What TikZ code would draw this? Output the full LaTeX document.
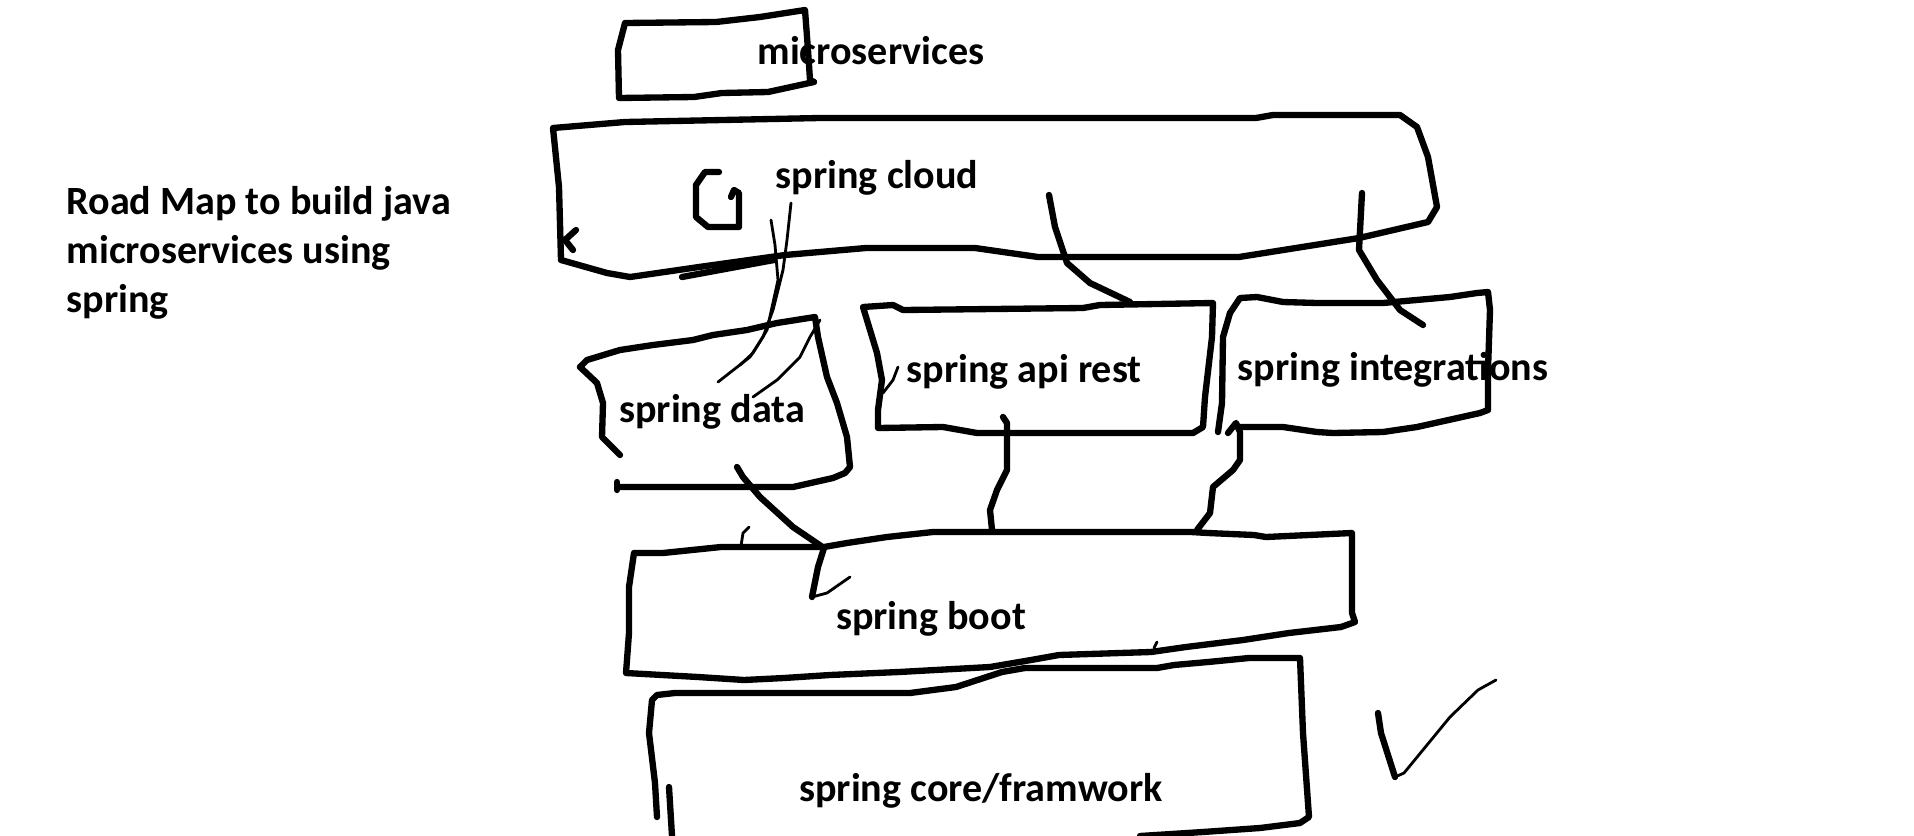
\documentclass[tikz,border=0pt]{standalone}
\usepackage{fontspec}
\setmainfont{Carlito}
\usepackage{tikz}

\tikzset{
  txt/.style={font=\bfseries\fontsize{11.4}{13.9}\selectfont, inner sep=0pt},
  hand/.style={line width=1.8pt, line join=round, line cap=round},
  fine/.style={line width=0.8pt, line join=round, line cap=round}
}

\begin{document}
\begin{tikzpicture}[x=0.01cm, y=-0.01cm]
  \useasboundingbox (0,0) rectangle (1914,836);
  \fill[white] (0,0) rectangle (1914,836);

  \node[txt, anchor=west, align=left] (title) at (66,253) {Road Map to build java\\microservices using\\spring};
  \node[txt] (ms) at (871,51) {microservices};
  \node[txt] (cloud) at (877,178) {spring cloud};
  \node[txt] (data) at (712,412) {spring data};
  \node[txt] (api) at (1024,372) {spring api rest};
  \node[txt] (integ) at (1393,370) {spring integrations};
  \node[txt] (boot) at (931,619) {spring boot};
  \node[txt] (core) at (981,791) {spring core/framwork};

  % boxes
  \draw[hand] (625,23) -- (716,22) -- (760,17) -- (805,10) -- (808,50) -- (810,80) -- (814,82) -- (768,92) -- (722,93) -- (694,97) -- (619,98) -- (618,50) -- cycle;
  \draw[hand] (553,128) -- (625,122) -- (820,118) -- (1256,118) -- (1273,115) -- (1400,115) -- (1417,127) -- (1428,157) -- (1437,207) -- (1428,222) -- (1359,238) -- (1239,257) -- (1038,257) -- (975,248) -- (866,248) -- (785,255) -- (699,267) -- (630,277) -- (607,273) -- (561,260) -- (559,187) -- cycle;
  \draw[hand] (576,230) -- (565,240) -- (573,250);
  \draw[hand] (682,277) -- (774,260);
  \draw[hand] (719,172) -- (705,172) -- (696,185) -- (696,217) -- (708,227) -- (739,227) -- (739,193) -- (734,190) -- (731,197);

  \draw[hand] (580,367) -- (587,360) -- (620,350) -- (653,345) -- (693,340) -- (713,335) -- (747,330) -- (777,323) -- (815,317) -- (818,337) -- (827,377) -- (837,403) -- (847,437) -- (850,467) -- (845,473) -- (833,478) -- (793,487) -- (620,487);
  \draw[hand] (580,367) -- (597,383) -- (603,403) -- (602,437) -- (620,455);
  \draw[hand] (617,482) -- (617,490);
  \draw[fine] (820,320) -- (810,337) -- (800,357) -- (777,380) -- (753,397);

  \draw[hand] (863,307) -- (893,305) -- (903,310) -- (1083,308) -- (1100,305) -- (1213,303) -- (1212,337) -- (1205,397) -- (1203,427) -- (1193,433) -- (977,433) -- (943,427) -- (878,428) -- (878,410) -- (882,380) -- (877,353) -- cycle;
  \draw[fine] (898,367) -- (893,380) -- (883,393);

  \draw[hand] (1230,313) -- (1240,298) -- (1257,297) -- (1283,302) -- (1317,303) -- (1383,303) -- (1450,297) -- (1477,293) -- (1488,292) -- (1490,310) -- (1488,370) -- (1488,410) -- (1480,413) -- (1417,427) -- (1383,432) -- (1333,433) -- (1317,432) -- (1283,427) -- (1240,427);
  \draw[hand] (1230,313) -- (1223,337) -- (1222,403) -- (1218,432);

  \draw[hand] (634,553) -- (663,553) -- (692,550) -- (721,547) -- (824,547) -- (847,543) -- (887,537) -- (933,532) -- (1191,532) -- (1208,533) -- (1254,535) -- (1266,537) -- (1352,533) -- (1352,613) -- (1355,622) -- (1341,627) -- (1289,633) -- (1243,640) -- (1186,647) -- (1151,652) -- (1059,655) -- (1031,660) -- (990,667) -- (899,672) -- (830,675) -- (784,678) -- (744,680) -- (698,677) -- (626,673) -- (629,633) -- (629,587) -- cycle;
  \draw[fine] (741,546) -- (743,533) -- (749,527);
  \draw[fine] (1157,642) -- (1154,648);

  \draw[hand] (657,817) -- (655,783) -- (649,733) -- (652,700) -- (657,695) -- (675,693) -- (910,693) -- (956,687) -- (1002,672) -- (1025,668) -- (1157,668) -- (1174,665) -- (1208,662) -- (1249,658) -- (1300,658) -- (1303,733) -- (1309,817) -- (1300,823) -- (1260,828) -- (1203,832) -- (1140,836);
  \draw[hand] (669,787) -- (672,836);

  % connectors
  \coordinate (cloudA) at (791,203);
  \coordinate (cloudB) at (771,220);
  \coordinate (cloudC) at (1049,195);
  \coordinate (cloudD) at (1362,193);
  \coordinate (dataA) at (718,382);
  \coordinate (dataB) at (740,365);
  \coordinate (apiT) at (1130,302);
  \coordinate (integT) at (1423,325);
  \coordinate (dataD) at (737,467);
  \coordinate (apiD) at (1003,417);
  \coordinate (integD) at (1228,433);
  \coordinate (bootA) at (850,577);
  \coordinate (bootB) at (992,530);
  \coordinate (bootC) at (1197,530);

  \draw[fine] (cloudA) -- (787,240) -- (783,270) -- (773,310) -- (763,337) -- (750,357) -- (dataA);
  \draw[fine] (cloudB) -- (775,245) -- (778,280) -- (767,330) -- (753,353) -- (dataB);
  \draw[hand] (cloudC) -- (1055,227) -- (1067,263) -- (1090,283) -- (apiT);
  \draw[hand] (cloudD) -- (1359,250) -- (1377,280) -- (1400,310) -- (integT);
  \draw[hand] (dataD) -- (743,477) -- (760,497) -- (793,527) -- (824,548) -- (818,567) -- (812,597);
  \draw[fine] (812,597) -- (827,593) -- (bootA);
  \draw[hand] (apiD) -- (1007,423) -- (1007,470) -- (997,490) -- (990,510) -- (bootB);
  \draw[hand] (integD) -- (1236,423) -- (1240,432) -- (1240,460) -- (1233,470) -- (1213,487) -- (1210,513) -- (bootC);

  % tick
  \draw[hand] (1378,713) -- (1381,733) -- (1395,777);
  \draw[fine] (1395,777) -- (1404,773) -- (1450,717) -- (1478,690) -- (1496,680);
\end{tikzpicture}
\end{document}
